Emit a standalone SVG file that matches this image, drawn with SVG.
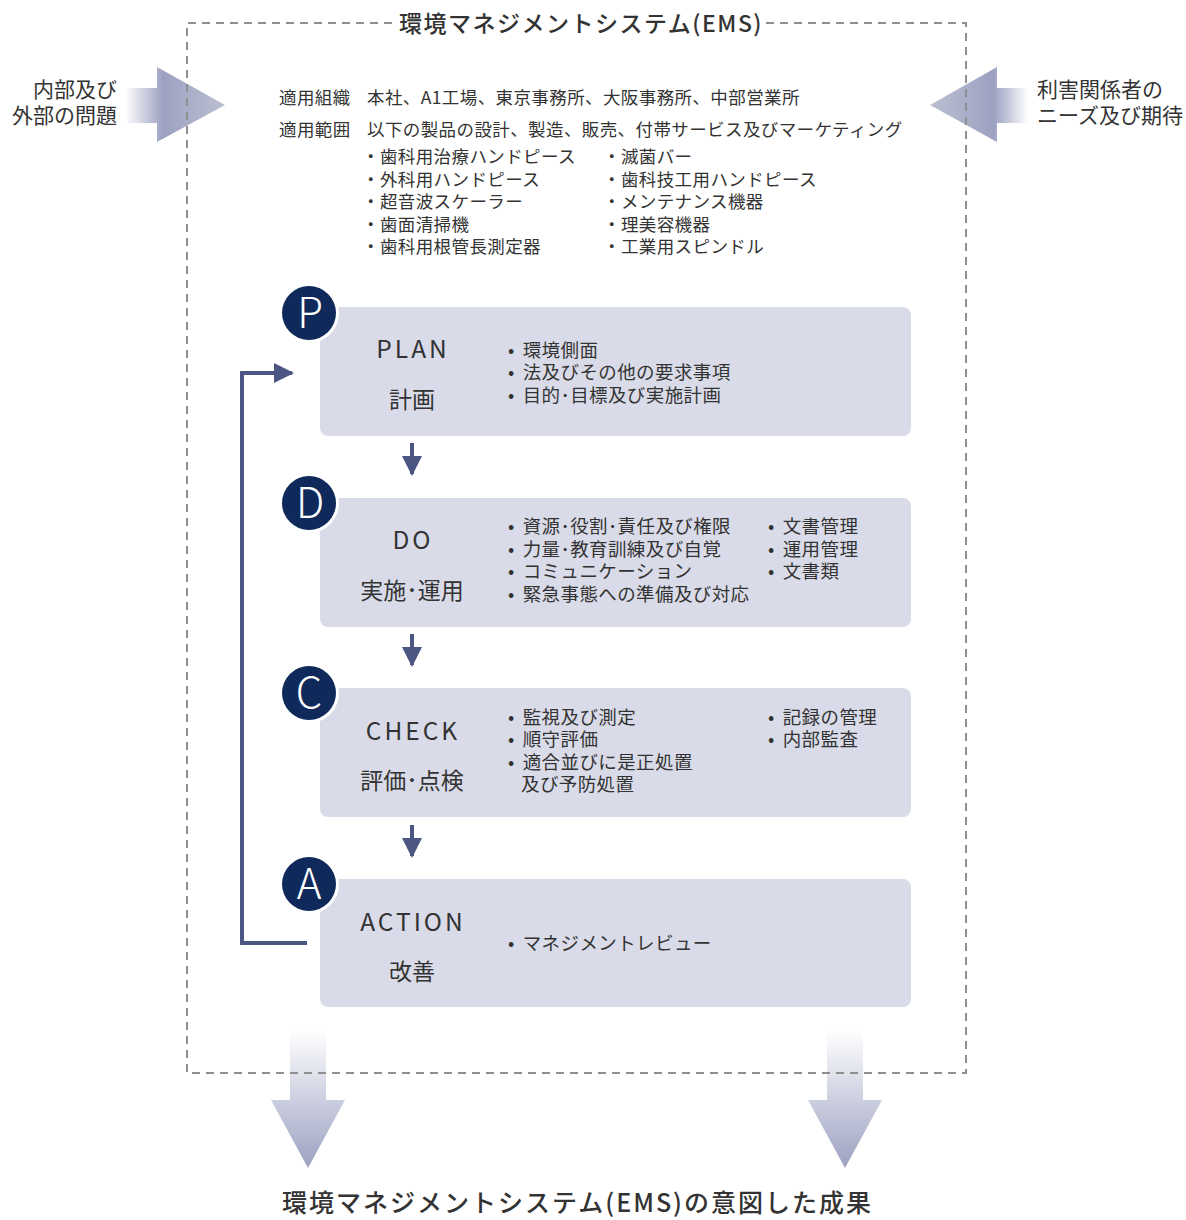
<svg xmlns="http://www.w3.org/2000/svg" width="1186" height="1220" viewBox="0 0 1186 1220">
<defs>
<linearGradient id="gL" gradientUnits="userSpaceOnUse" x1="125" y1="0" x2="225" y2="0">
<stop offset="0" stop-color="#ffffff"/><stop offset="0.38" stop-color="#9ca1c1"/><stop offset="1" stop-color="#bcc0d2"/>
</linearGradient>
<linearGradient id="gR" gradientUnits="userSpaceOnUse" x1="1028" y1="0" x2="930" y2="0">
<stop offset="0" stop-color="#ffffff"/><stop offset="0.35" stop-color="#9ca1c1"/><stop offset="1" stop-color="#bcc0d2"/>
</linearGradient>
<linearGradient id="gD" gradientUnits="userSpaceOnUse" x1="0" y1="1030" x2="0" y2="1168">
<stop offset="0" stop-color="#ffffff"/><stop offset="1" stop-color="#9ca1c1"/>
</linearGradient>
<marker id="ah" viewBox="0 0 10 10" refX="9" refY="5" markerWidth="5" markerHeight="5" orient="auto" markerUnits="strokeWidth">
<path d="M0,0 L10,5 L0,10 z" fill="#4b5683"/>
</marker>
</defs>
<style>
text{font-family:"Noto Sans CJK JP","Noto Sans",sans-serif;fill:#333333;}
.t{font-size:23px;font-weight:500;letter-spacing:1.5px;}
.side{font-size:21px;}
.sc{font-size:17.5px;letter-spacing:0.4px;}
.lab{font-size:23px;text-anchor:middle;}
.lat{font-size:24.5px;text-anchor:middle;letter-spacing:3px;}
.bul{font-size:18.5px;letter-spacing:0.4px;}
.let{font-size:42px;fill:#ffffff;text-anchor:middle;font-weight:300;}
.box{fill:#d9dbe8;}
.dash{fill:none;stroke:#8f8f8f;stroke-width:2;stroke-dasharray:8 6;}
.conn{fill:none;stroke:#4b5683;stroke-width:4;}
</style>

<g id="input-arrows">
<path d="M125,88 L157,88 L157,67 L225,105 L157,142 L157,123 L125,123 z" fill="url(#gL)"/>
<path d="M1028,88 L997,88 L997,67 L930,105 L997,142 L997,123 L1028,123 z" fill="url(#gR)"/>
</g>
<g id="output-arrows">
<path d="M290,1030 L326,1030 L326,1100 L345,1100 L308,1168 L271,1100 L290,1100 z" fill="url(#gD)"/>
<path d="M827,1030 L863,1030 L863,1100 L882,1100 L845,1168 L808,1100 L827,1100 z" fill="url(#gD)"/>
</g>

<g id="ems-frame">
<path class="dash" d="M392,23 L187,23 L187,1073 L966,1073 L966,23 L765,23"/>
<text class="t" x="399" y="32">環境マネジメントシステム(EMS)</text>
</g>

<g id="internal-issues">
<text class="side" x="117" y="97" text-anchor="end">内部及び</text>
<text class="side" x="117" y="123" text-anchor="end">外部の問題</text>
</g>
<g id="stakeholders">
<text class="side" x="1037" y="97">利害関係者の</text>
<text class="side" x="1037" y="123">ニーズ及び期待</text>
</g>

<g id="scope">
<text class="sc" x="279" y="104">適用組織</text>
<text class="sc" x="367" y="104">本社、A1工場、東京事務所、大阪事務所、中部営業所</text>
<text class="sc" x="279" y="136">適用範囲</text>
<text class="sc" x="367" y="136">以下の製品の設計、製造、販売、付帯サービス及びマーケティング</text>
<text class="sc" x="362" y="163">・歯科用治療ハンドピース</text>
<text class="sc" x="362" y="186">・外科用ハンドピース</text>
<text class="sc" x="362" y="208">・超音波スケーラー</text>
<text class="sc" x="362" y="231">・歯面清掃機</text>
<text class="sc" x="362" y="253">・歯科用根管長測定器</text>
<text class="sc" x="603" y="163">・滅菌バー</text>
<text class="sc" x="603" y="186">・歯科技工用ハンドピース</text>
<text class="sc" x="603" y="208">・メンテナンス機器</text>
<text class="sc" x="603" y="231">・理美容機器</text>
<text class="sc" x="603" y="253">・工業用スピンドル</text>
</g>

<g id="connectors">
<path class="conn" d="M412,443 L412,474" marker-end="url(#ah)"/>
<path class="conn" d="M412,634 L412,665" marker-end="url(#ah)"/>
<path class="conn" d="M412,825 L412,856" marker-end="url(#ah)"/>
<path class="conn" d="M307,943 L242,943 L242,373 L292,373" marker-end="url(#ah)"/>
</g>

<g id="plan">
<rect class="box" x="320" y="307" width="591" height="129" rx="8"/>
<circle cx="309" cy="313" r="30" fill="#ffffff"/>
<circle cx="309" cy="313" r="27" fill="#0f2a5a"/>
<text class="let" x="310" y="328">P</text>
<text class="lat" x="413" y="358">PLAN</text>
<text class="lab" x="412" y="408">計画</text>
<text class="bul" x="508" y="357">•<tspan dx="8">環境側面</tspan></text>
<text class="bul" x="508" y="379">•<tspan dx="8">法及びその他の要求事項</tspan></text>
<text class="bul" x="508" y="402">•<tspan dx="8">目的･目標及び実施計画</tspan></text>
</g>

<g id="do">
<rect class="box" x="320" y="498" width="591" height="129" rx="8"/>
<circle cx="309" cy="503" r="30" fill="#ffffff"/>
<circle cx="309" cy="503" r="27" fill="#0f2a5a"/>
<text class="let" x="310" y="518">D</text>
<text class="lat" x="413" y="549">DO</text>
<text class="lab" x="412" y="599">実施･運用</text>
<text class="bul" x="508" y="533">•<tspan dx="8">資源･役割･責任及び権限</tspan></text>
<text class="bul" x="508" y="556">•<tspan dx="8">力量･教育訓練及び自覚</tspan></text>
<text class="bul" x="508" y="578">•<tspan dx="8">コミュニケーション</tspan></text>
<text class="bul" x="508" y="601">•<tspan dx="8">緊急事態への準備及び対応</tspan></text>
<text class="bul" x="768" y="533">•<tspan dx="8">文書管理</tspan></text>
<text class="bul" x="768" y="556">•<tspan dx="8">運用管理</tspan></text>
<text class="bul" x="768" y="578">•<tspan dx="8">文書類</tspan></text>
</g>

<g id="check">
<rect class="box" x="320" y="688" width="591" height="129" rx="8"/>
<circle cx="309" cy="693" r="30" fill="#ffffff"/>
<circle cx="309" cy="693" r="27" fill="#0f2a5a"/>
<text class="let" x="309" y="708">C</text>
<text class="lat" x="413" y="740">CHECK</text>
<text class="lab" x="412" y="789">評価･点検</text>
<text class="bul" x="508" y="724">•<tspan dx="8">監視及び測定</tspan></text>
<text class="bul" x="508" y="746">•<tspan dx="8">順守評価</tspan></text>
<text class="bul" x="508" y="769">•<tspan dx="8">適合並びに是正処置</tspan></text>
<text class="bul" x="521" y="791">及び予防処置</text>
<text class="bul" x="768" y="724">•<tspan dx="8">記録の管理</tspan></text>
<text class="bul" x="768" y="746">•<tspan dx="8">内部監査</tspan></text>
</g>

<g id="action">
<rect class="box" x="320" y="879" width="591" height="128" rx="8"/>
<circle cx="309" cy="884" r="30" fill="#ffffff"/>
<circle cx="309" cy="884" r="27" fill="#0f2a5a"/>
<text class="let" x="309" y="899">A</text>
<text class="lat" x="413" y="931">ACTION</text>
<text class="lab" x="412" y="980">改善</text>
<text class="bul" x="508" y="950">•<tspan dx="8">マネジメントレビュー</tspan></text>
</g>

<g id="outcome">
<text x="282" y="1212" style="font-size:25px;font-weight:500;letter-spacing:2px;">環境マネジメントシステム(EMS)の意図した成果</text>
</g>
</svg>
